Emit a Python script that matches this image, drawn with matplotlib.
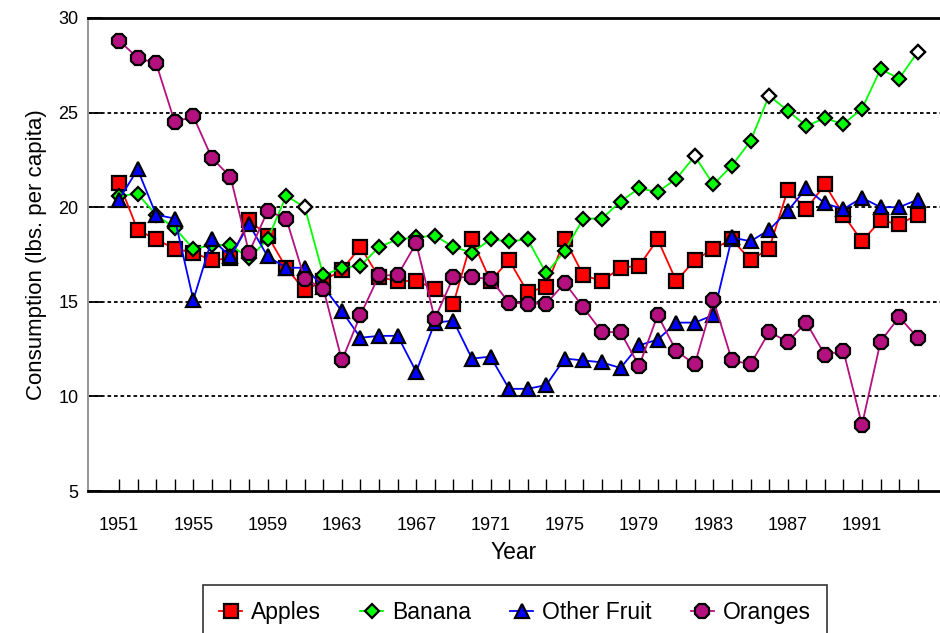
import matplotlib
matplotlib.use("Agg")
import matplotlib.pyplot as plt
import numpy as np

plt.rcParams['font.family'] = ['Liberation Sans', 'DejaVu Sans']

years = list(range(1951, 1995))

apples = [21.3, 18.8, 18.3, 17.8, 17.6, 17.2, 17.3, 19.3, 18.5, 16.8,
          15.6, 16.1, 16.7, 17.9, 16.3, 16.1, 16.1, 15.7, 14.9, 18.3,
          16.1, 17.2, 15.5, 15.8, 18.3, 16.4, 16.1, 16.8, 16.9, 18.3,
          16.1, 17.2, 17.8, 18.3, 17.2, 17.8, 20.9, 19.9, 21.2, 19.6,
          18.2, 19.3, 19.1, 19.6]

banana = [20.6, 20.7, 19.6, 18.9, 17.8, 18.0, 18.0, 17.3, 18.3, 20.6,
          20.0, 16.4, 16.8, 16.9, 17.9, 18.3, 18.4, 18.5, 17.9, 17.6,
          18.3, 18.2, 18.3, 16.5, 17.7, 19.4, 19.4, 20.3, 21.0, 20.8,
          21.5, 22.7, 21.2, 22.2, 23.5, 25.9, 25.1, 24.3, 24.7, 24.4,
          25.2, 27.3, 26.8, 28.2]
banana_hollow_years = [1961, 1982, 1986, 1994]

other_fruit = [20.4, 22.0, 19.6, 19.4, 15.1, 18.3, 17.4, 19.1, 17.4, 16.8,
               16.8, 15.8, 14.5, 13.1, 13.2, 13.2, 11.3, 13.9, 14.0, 12.0,
               12.1, 10.4, 10.4, 10.6, 12.0, 11.9, 11.8, 11.5, 12.7, 13.0,
               13.9, 13.9, 14.3, 18.4, 18.2, 18.8, 19.8, 21.0, 20.2, 19.9,
               20.5, 20.0, 20.0, 20.4]

oranges = [28.8, 27.9, 27.6, 24.5, 24.8, 22.6, 21.6, 17.6, 19.8, 19.4,
           16.2, 15.7, 11.9, 14.3, 16.4, 16.4, 18.1, 14.1, 16.3, 16.3,
           16.2, 14.95, 14.9, 14.9, 16.0, 14.7, 13.4, 13.4, 11.6, 14.3,
           12.4, 11.7, 15.1, 11.9, 11.7, 13.4, 12.9, 13.9, 12.2, 12.4,
           8.5, 12.9, 14.2, 13.1]

xtick_labels = list(range(1951, 1994, 4))
yticks = [5, 10, 15, 20, 25, 30]

fig = plt.figure(figsize=(9.4, 6.33), dpi=100)
ax = fig.add_axes([88/940, 142/633, 1 - 88/940, (615-142)/633])

lw = 1.3
mew = 1.6
ax.plot(years, apples, color='#FF0000', lw=lw, marker='s', ms=10,
        mfc='#FF0000', mec='black', mew=mew, label='Apples', zorder=3)
ax.plot(years, banana, color='#00FF00', lw=lw, marker='D', ms=7.5,
        mfc='#00FF00', mec='black', mew=mew, label='Banana', zorder=4)
hy = [y for y in years if y in banana_hollow_years]
hv = [banana[years.index(y)] for y in hy]
ax.plot(hy, hv, ls='none', marker='D', ms=7.5, mfc='white', mec='black',
        mew=mew, zorder=4.5)
ax.plot(years, other_fruit, color='#0000FF', lw=lw, marker='^', ms=10,
        mfc='#0000FF', mec='black', mew=mew, label='Other Fruit', zorder=5)
ax.plot(years, oranges, color='#B4107F', lw=lw, marker='8', ms=10.5,
        mfc='#B4107F', mec='black', mew=mew, label='Oranges', zorder=6)

ax.set_xlim(1949.33, 1995.2)
ax.set_ylim(5, 30)
ax.set_yticks(yticks)
ax.set_xticks(years, minor=False)
ax.set_xticklabels([str(y) if y in xtick_labels else '' for y in years])

for v in [10, 15, 20, 25]:
    ax.axhline(v, color='black', lw=1.3, ls=(0, (2, 1.6)), zorder=1)

ax.tick_params(axis='x', direction='in', length=9, width=1, pad=19,
               labelsize=13, colors='black')
ax.tick_params(axis='y', direction='in', length=10, width=1.3, pad=7,
               labelsize=13)

ax.spines['right'].set_visible(False)
ax.spines['top'].set_linewidth(2)
ax.spines['bottom'].set_linewidth(2)
ax.spines['left'].set_color('#999999')
ax.spines['left'].set_linewidth(1.5)

ax.set_xlabel('Year', fontsize=16.5, labelpad=5)
ax.set_ylabel('Consumption (lbs. per capita)', fontsize=16, labelpad=8)

leg = fig.legend(loc='upper left', bbox_to_anchor=(203/940, 47/633, 624/940, 0.001),
                 ncol=4, mode='expand', frameon=True, fancybox=False,
                 edgecolor='black', fontsize=16.5, handlelength=1.0,
                 handletextpad=0.4, borderpad=0.7, borderaxespad=0)
leg.get_frame().set_linewidth(1.2)

fig.savefig('out.png', dpi=100)
